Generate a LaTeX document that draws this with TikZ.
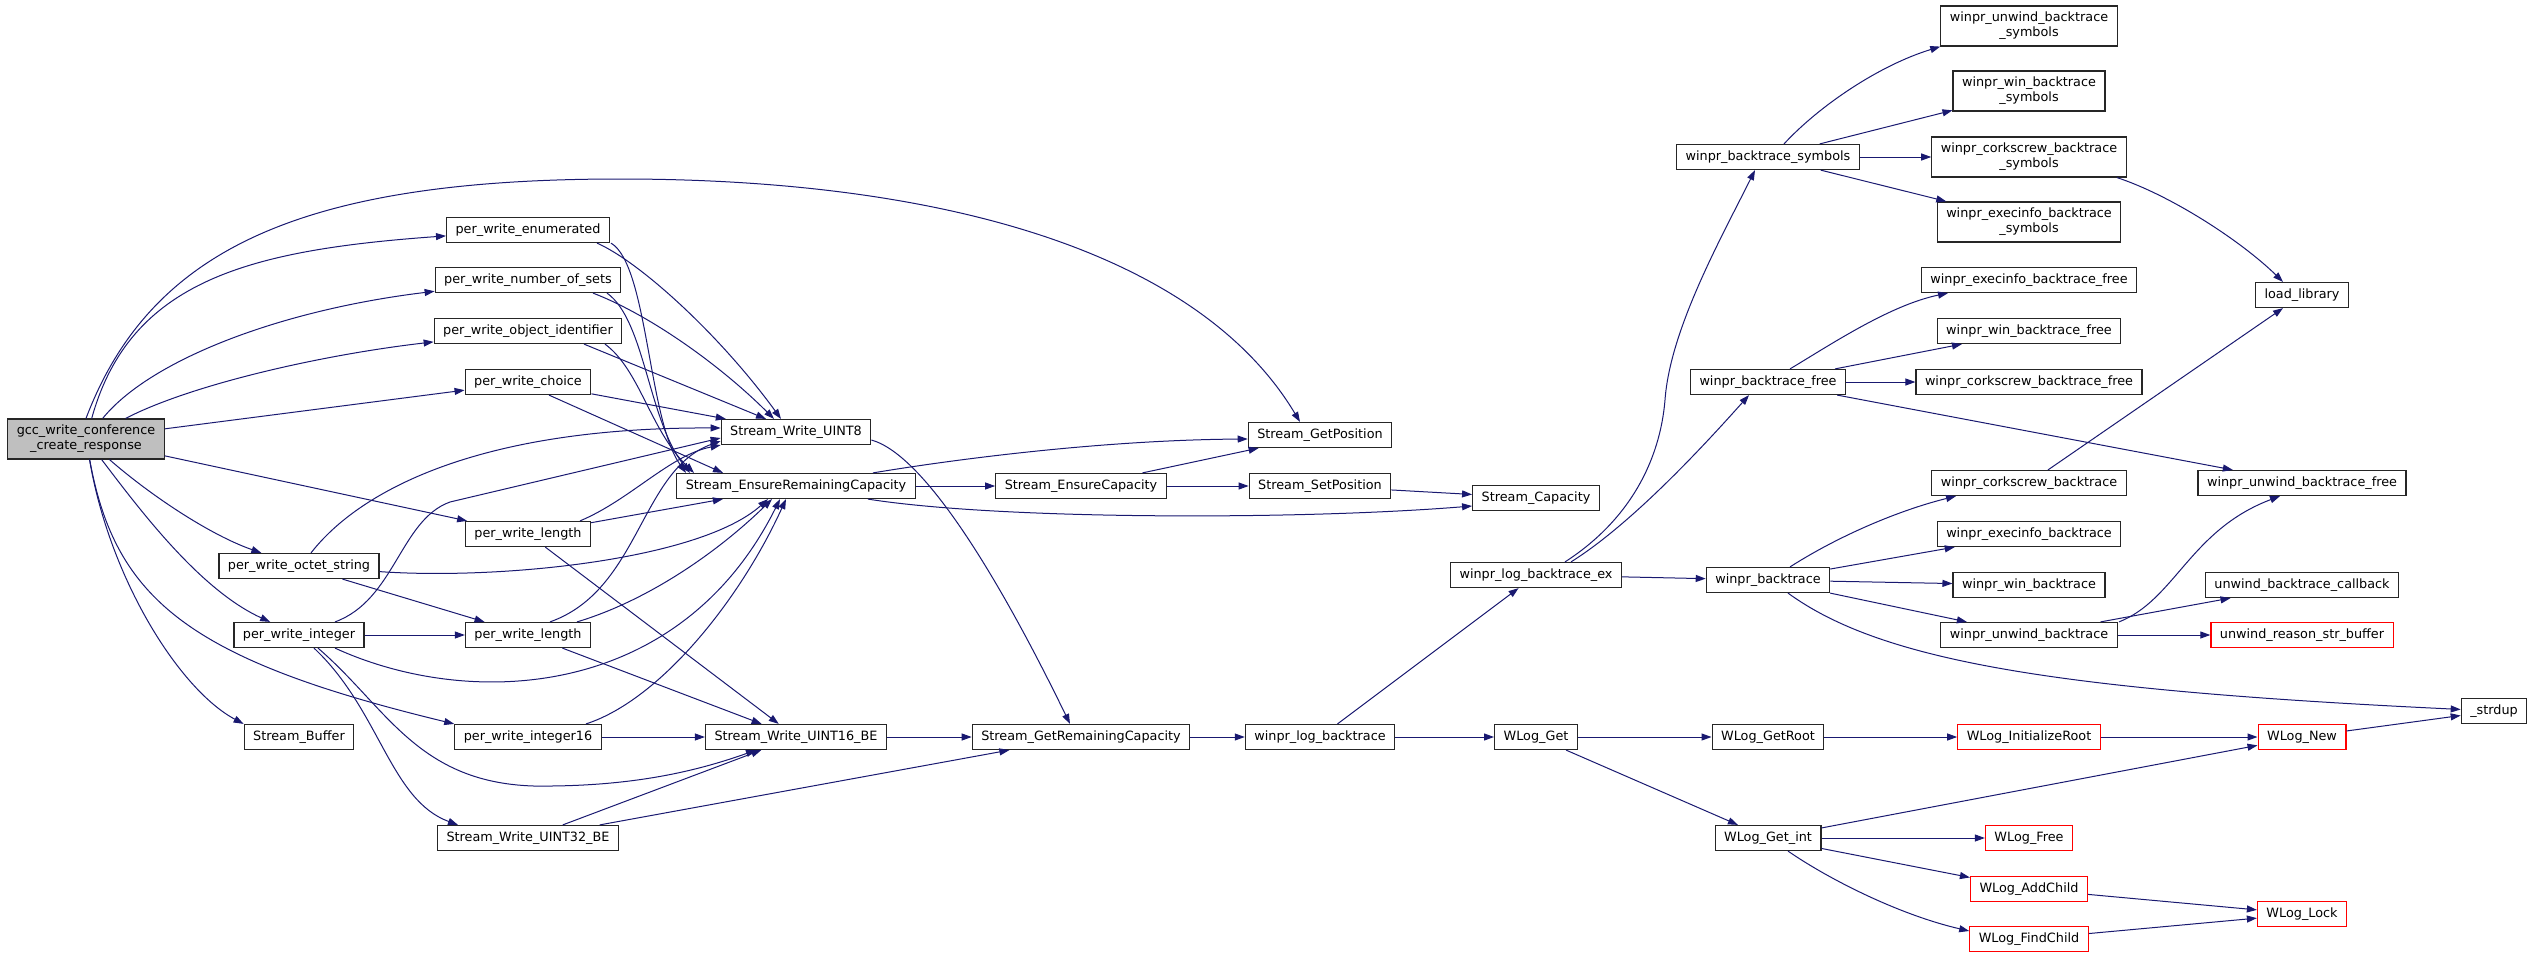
\documentclass[tikz,border=0pt]{standalone}
\usepackage{fontspec}
\setmainfont{DejaVu Sans}
\usetikzlibrary{arrows.meta}
\definecolor{calledge}{HTML}{191970}
\definecolor{rootfill}{HTML}{BFBFBF}
\begin{document}
\begin{tikzpicture}[x=1pt,y=-1pt,
    fn/.style={draw=black!85,line width=1.2pt,fill=white,inner xsep=9pt,inner ysep=2pt,minimum height=25pt,align=center,font=\fontsize{12.8}{15}\selectfont},
    fntwo/.style={fn,minimum height=40pt},
    fnred/.style={fn,draw=red},
    call/.style={draw=calledge,line width=1pt,-{Triangle[length=10pt,width=7pt]}}]
                \useasboundingbox (0,0) rectangle (2535,958);

                % callers on the left
                \node[fntwo,fill=rootfill] (gcc) at (86,439) {gcc\_write\_conference\\\_create\_response};
                \node[fn] (enum) at (528,230) {per\_write\_enumerated};
                \node[fn] (nsets) at (528,280) {per\_write\_number\_of\_sets};
                \node[fn] (oid) at (528,331) {per\_write\_object\_identifier};
                \node[fn] (choice) at (528,382) {per\_write\_choice};
                \node[fn] (lenA) at (528,534) {per\_write\_length};
                \node[fn] (octet) at (299,566) {per\_write\_octet\_string};
                \node[fn] (integer) at (299,635) {per\_write\_integer};
                \node[fn] (lenB) at (528,635) {per\_write\_length};
                \node[fn] (sbuf) at (299,737) {Stream\_Buffer};
                \node[fn] (int16) at (528,737) {per\_write\_integer16};
                \node[fn] (u32) at (528,838) {Stream\_Write\_UINT32\_BE};

                % stream functions
                \node[fn] (u8) at (796,432) {Stream\_Write\_UINT8};
                \node[fn] (ensrem) at (796,486) {Stream\_EnsureRemainingCapacity};
                \node[fn] (u16) at (796,737) {Stream\_Write\_UINT16\_BE};
                \node[fn] (getpos) at (1320,435) {Stream\_GetPosition};
                \node[fn] (enscap) at (1081,486) {Stream\_EnsureCapacity};
                \node[fn] (setpos) at (1320,486) {Stream\_SetPosition};
                \node[fn] (cap) at (1536,498) {Stream\_Capacity};
                \node[fn] (getrem) at (1081,737) {Stream\_GetRemainingCapacity};

                % winpr log / backtrace
                \node[fn] (logbt) at (1320,737) {winpr\_log\_backtrace};
                \node[fn] (logbtex) at (1536,575) {winpr\_log\_backtrace\_ex};
                \node[fn] (wlogget) at (1536,737) {WLog\_Get};
                \node[fn] (btsym) at (1768,157) {winpr\_backtrace\_symbols};
                \node[fn] (btfree) at (1768,382) {winpr\_backtrace\_free};
                \node[fn] (bt) at (1768,580) {winpr\_backtrace};
                \node[fn] (getroot) at (1768,737) {WLog\_GetRoot};
                \node[fn] (getint) at (1768,838) {WLog\_Get\_int};
                \node[fntwo] (unwsym) at (2029,26) {winpr\_unwind\_backtrace\\\_symbols};
                \node[fntwo] (winsym) at (2029,91) {winpr\_win\_backtrace\\\_symbols};
                \node[fntwo] (corksym) at (2029,157) {winpr\_corkscrew\_backtrace\\\_symbols};
                \node[fntwo] (execsym) at (2029,222) {winpr\_execinfo\_backtrace\\\_symbols};
                \node[fn] (execfree) at (2029,280) {winpr\_execinfo\_backtrace\_free};
                \node[fn] (winfree) at (2029,331) {winpr\_win\_backtrace\_free};
                \node[fn] (corkfree) at (2029,382) {winpr\_corkscrew\_backtrace\_free};
                \node[fn] (corkbt) at (2029,483) {winpr\_corkscrew\_backtrace};
                \node[fn] (execbt) at (2029,534) {winpr\_execinfo\_backtrace};
                \node[fn] (winbt) at (2029,585) {winpr\_win\_backtrace};
                \node[fn] (unwbt) at (2029,635) {winpr\_unwind\_backtrace};
                \node[fnred] (initroot) at (2029,737) {WLog\_InitializeRoot};
                \node[fnred] (wfree) at (2029,838) {WLog\_Free};
                \node[fnred] (addchild) at (2029,889) {WLog\_AddChild};
                \node[fnred] (findchild) at (2029,939) {WLog\_FindChild};
                \node[fn] (loadlib) at (2302,295) {load\_library};
                \node[fn] (unwfree) at (2302,483) {winpr\_unwind\_backtrace\_free};
                \node[fn] (cb) at (2302,585) {unwind\_backtrace\_callback};
                \node[fnred] (reason) at (2302,635) {unwind\_reason\_str\_buffer};
                \node[fnred] (wnew) at (2302,737) {WLog\_New};
                \node[fnred] (wlock) at (2302,914) {WLog\_Lock};
                \node[fn] (strdup) at (2494,711) {\_strdup};

                % calls of gcc_write_conference_create_response
                \draw[call] (gcc.north) .. controls (150,250) and (300,179) .. (620,179) .. controls (950,179) and (1200,255) .. ([xshift=-20pt]getpos.north);
                \draw[call] (gcc) .. controls (130,280) and (250,250) .. (enum);
                \draw[call] (gcc) .. controls (150,360) and (280,310) .. (nsets);
                \draw[call] (gcc) .. controls (190,385) and (320,355) .. (oid);
                \draw[call] (gcc) -- (choice);
                \draw[call] (gcc) -- (lenA);
                \draw[call] (gcc) .. controls (150,495) and (210,535) .. (octet);
                \draw[call] (gcc) .. controls (140,510) and (200,590) .. (integer);
                \draw[call] (gcc) .. controls (115,600) and (190,660) .. (int16.north west);
                \draw[call] (gcc) .. controls (110,580) and (180,690) .. (sbuf.north west);

                % per_write_* calls
                \draw[call] ([xshift=69pt]enum.south) .. controls (640,262) and (720,335) .. ([xshift=-15pt]u8.north);
                \draw[call] ([xshift=83pt]enum.south) .. controls (648,265) and (648,420) .. ([xshift=-110pt]ensrem.north);
                \draw[call] ([xshift=65pt]nsets.south) .. controls (650,315) and (720,365) .. ([xshift=-22pt]u8.north);
                \draw[call] ([xshift=79pt]nsets.south) .. controls (645,320) and (648,420) .. ([xshift=-106pt]ensrem.north);
                \draw[call] ([xshift=56pt]oid.south) -- ([xshift=-30pt]u8.north);
                \draw[call] ([xshift=77pt]oid.south) .. controls (640,370) and (650,430) .. ([xshift=-102pt]ensrem.north);
                \draw[call] (choice) -- (u8);
                \draw[call] ([xshift=21pt]choice.south) -- ([xshift=-73pt]ensrem.north);
                \draw[call] ([xshift=52pt]lenA.north) .. controls (630,500) and (670,455) .. (u8.south west);
                \draw[call] (lenA) -- (ensrem);
                \draw[call] (lenA) -- (u16);
                \draw[call] ([xshift=12pt]octet.north) .. controls (360,490) and (480,427) .. ([yshift=4pt]u8.west);
                \draw[call] (octet) .. controls (500,580) and (700,560) .. ([xshift=-28pt]ensrem.south);
                \draw[call] (octet) -- (lenB);
                \draw[call] ([xshift=36pt]integer.north) .. controls (395,600) and (400,520) .. (450,502) -- ([yshift=-6pt]u8.west);
                \draw[call] ([xshift=36pt]integer.south) .. controls (470,710) and (680,700) .. ([xshift=-16pt]ensrem.south);
                \draw[call] (integer) -- (lenB);
                \draw[call] ([xshift=19pt]integer.south) .. controls (390,710) and (420,790) .. (552,786) .. controls (640,785) and (700,770) .. ([xshift=-40pt]u16.south);
                \draw[call] ([xshift=15pt]integer.south) .. controls (380,710) and (390,800) .. ([xshift=-70pt]u32.north);
                \draw[call] ([xshift=22pt]lenB.north) .. controls (640,590) and (640,470) .. ([yshift=-9pt]u8.west);
                \draw[call] ([xshift=49pt]lenB.north) .. controls (650,600) and (720,550) .. ([xshift=-24pt]ensrem.south);
                \draw[call] (lenB) -- (u16);
                \draw[call] ([xshift=58pt]int16.north) .. controls (660,700) and (740,600) .. ([xshift=-10pt]ensrem.south);
                \draw[call] (int16) -- (u16);
                \draw[call] (u32) -- (u16);
                \draw[call] (u32) -- (getrem);

                % stream calls
                \draw[call] ([yshift=-8pt]u8.east) .. controls (925,455) and (1000,580) .. ([xshift=-11pt]getrem.north);
                \draw[call] (u16) -- (getrem);
                \draw[call] ([xshift=77pt]ensrem.north) .. controls (950,460) and (1100,440) .. ([yshift=-4pt]getpos.west);
                \draw[call] (ensrem) -- (enscap);
                \draw[call] ([xshift=72pt]ensrem.south) .. controls (1000,520) and (1300,520) .. ([yshift=-8pt]cap.west);
                \draw[call] (enscap) -- (getpos);
                \draw[call] (enscap) -- (setpos);
                \draw[call] (setpos) -- (cap);
                \draw[call] (getrem) -- (logbt);

                % winpr calls
                \draw[call] (logbt) -- (logbtex);
                \draw[call] (logbt) -- (wlogget);
                \draw[call] ([xshift=29pt]logbtex.north) .. controls (1630,520) and (1660,460) .. (1665,400) .. controls (1670,330) and (1720,240) .. ([xshift=-13pt]btsym.south);
                \draw[call] ([xshift=35pt]logbtex.north) .. controls (1630,525) and (1700,450) .. ([xshift=-19pt]btfree.south);
                \draw[call] (logbtex) -- (bt);
                \draw[call] ([xshift=16pt]btsym.north) .. controls (1820,105) and (1880,65) .. (unwsym.south west);
                \draw[call] (btsym) -- (winsym);
                \draw[call] (btsym) -- (corksym);
                \draw[call] (btsym) -- (execsym);
                \draw[call] ([xshift=88pt]corksym.south) .. controls (2170,195) and (2240,240) .. ([xshift=-19pt]loadlib.north);
                \draw[call] ([xshift=22pt]btfree.north) .. controls (1830,345) and (1890,305) .. ([xshift=-81pt]execfree.south);
                \draw[call] (btfree) -- (winfree);
                \draw[call] (btfree) -- (corkfree);
                \draw[call] (btfree) -- (unwfree);
                \draw[call] (corkbt) -- (loadlib);
                \draw[call] ([xshift=22pt]bt.north) .. controls (1840,535) and (1900,510) .. ([xshift=-73pt]corkbt.south);
                \draw[call] (bt) -- (execbt);
                \draw[call] (bt) -- (winbt);
                \draw[call] (bt) -- (unwbt);
                \draw[call] ([xshift=20pt]bt.south) .. controls (1880,660) and (2050,690) .. (strdup);
                \draw[call] ([xshift=90pt]unwbt.north) .. controls (2175,600) and (2190,530) .. ([xshift=-22pt]unwfree.south);
                \draw[call] (unwbt) -- (cb);
                \draw[call] (unwbt) -- (reason);

                % WLog calls
                \draw[call] (wlogget) -- (getroot);
                \draw[call] (wlogget) -- (getint);
                \draw[call] (getroot) -- (initroot);
                \draw[call] (initroot) -- (wnew);
                \draw[call] (wnew) -- (strdup);
                \draw[call] (getint) -- (wnew);
                \draw[call] (getint) -- (wfree);
                \draw[call] (getint) -- (addchild);
                \draw[call] ([xshift=20pt]getint.south) .. controls (1830,880) and (1900,915) .. ([yshift=8pt]findchild.west);
                \draw[call] (addchild) -- (wlock);
                \draw[call] (findchild) -- (wlock);
            \end{tikzpicture}
\end{document}
